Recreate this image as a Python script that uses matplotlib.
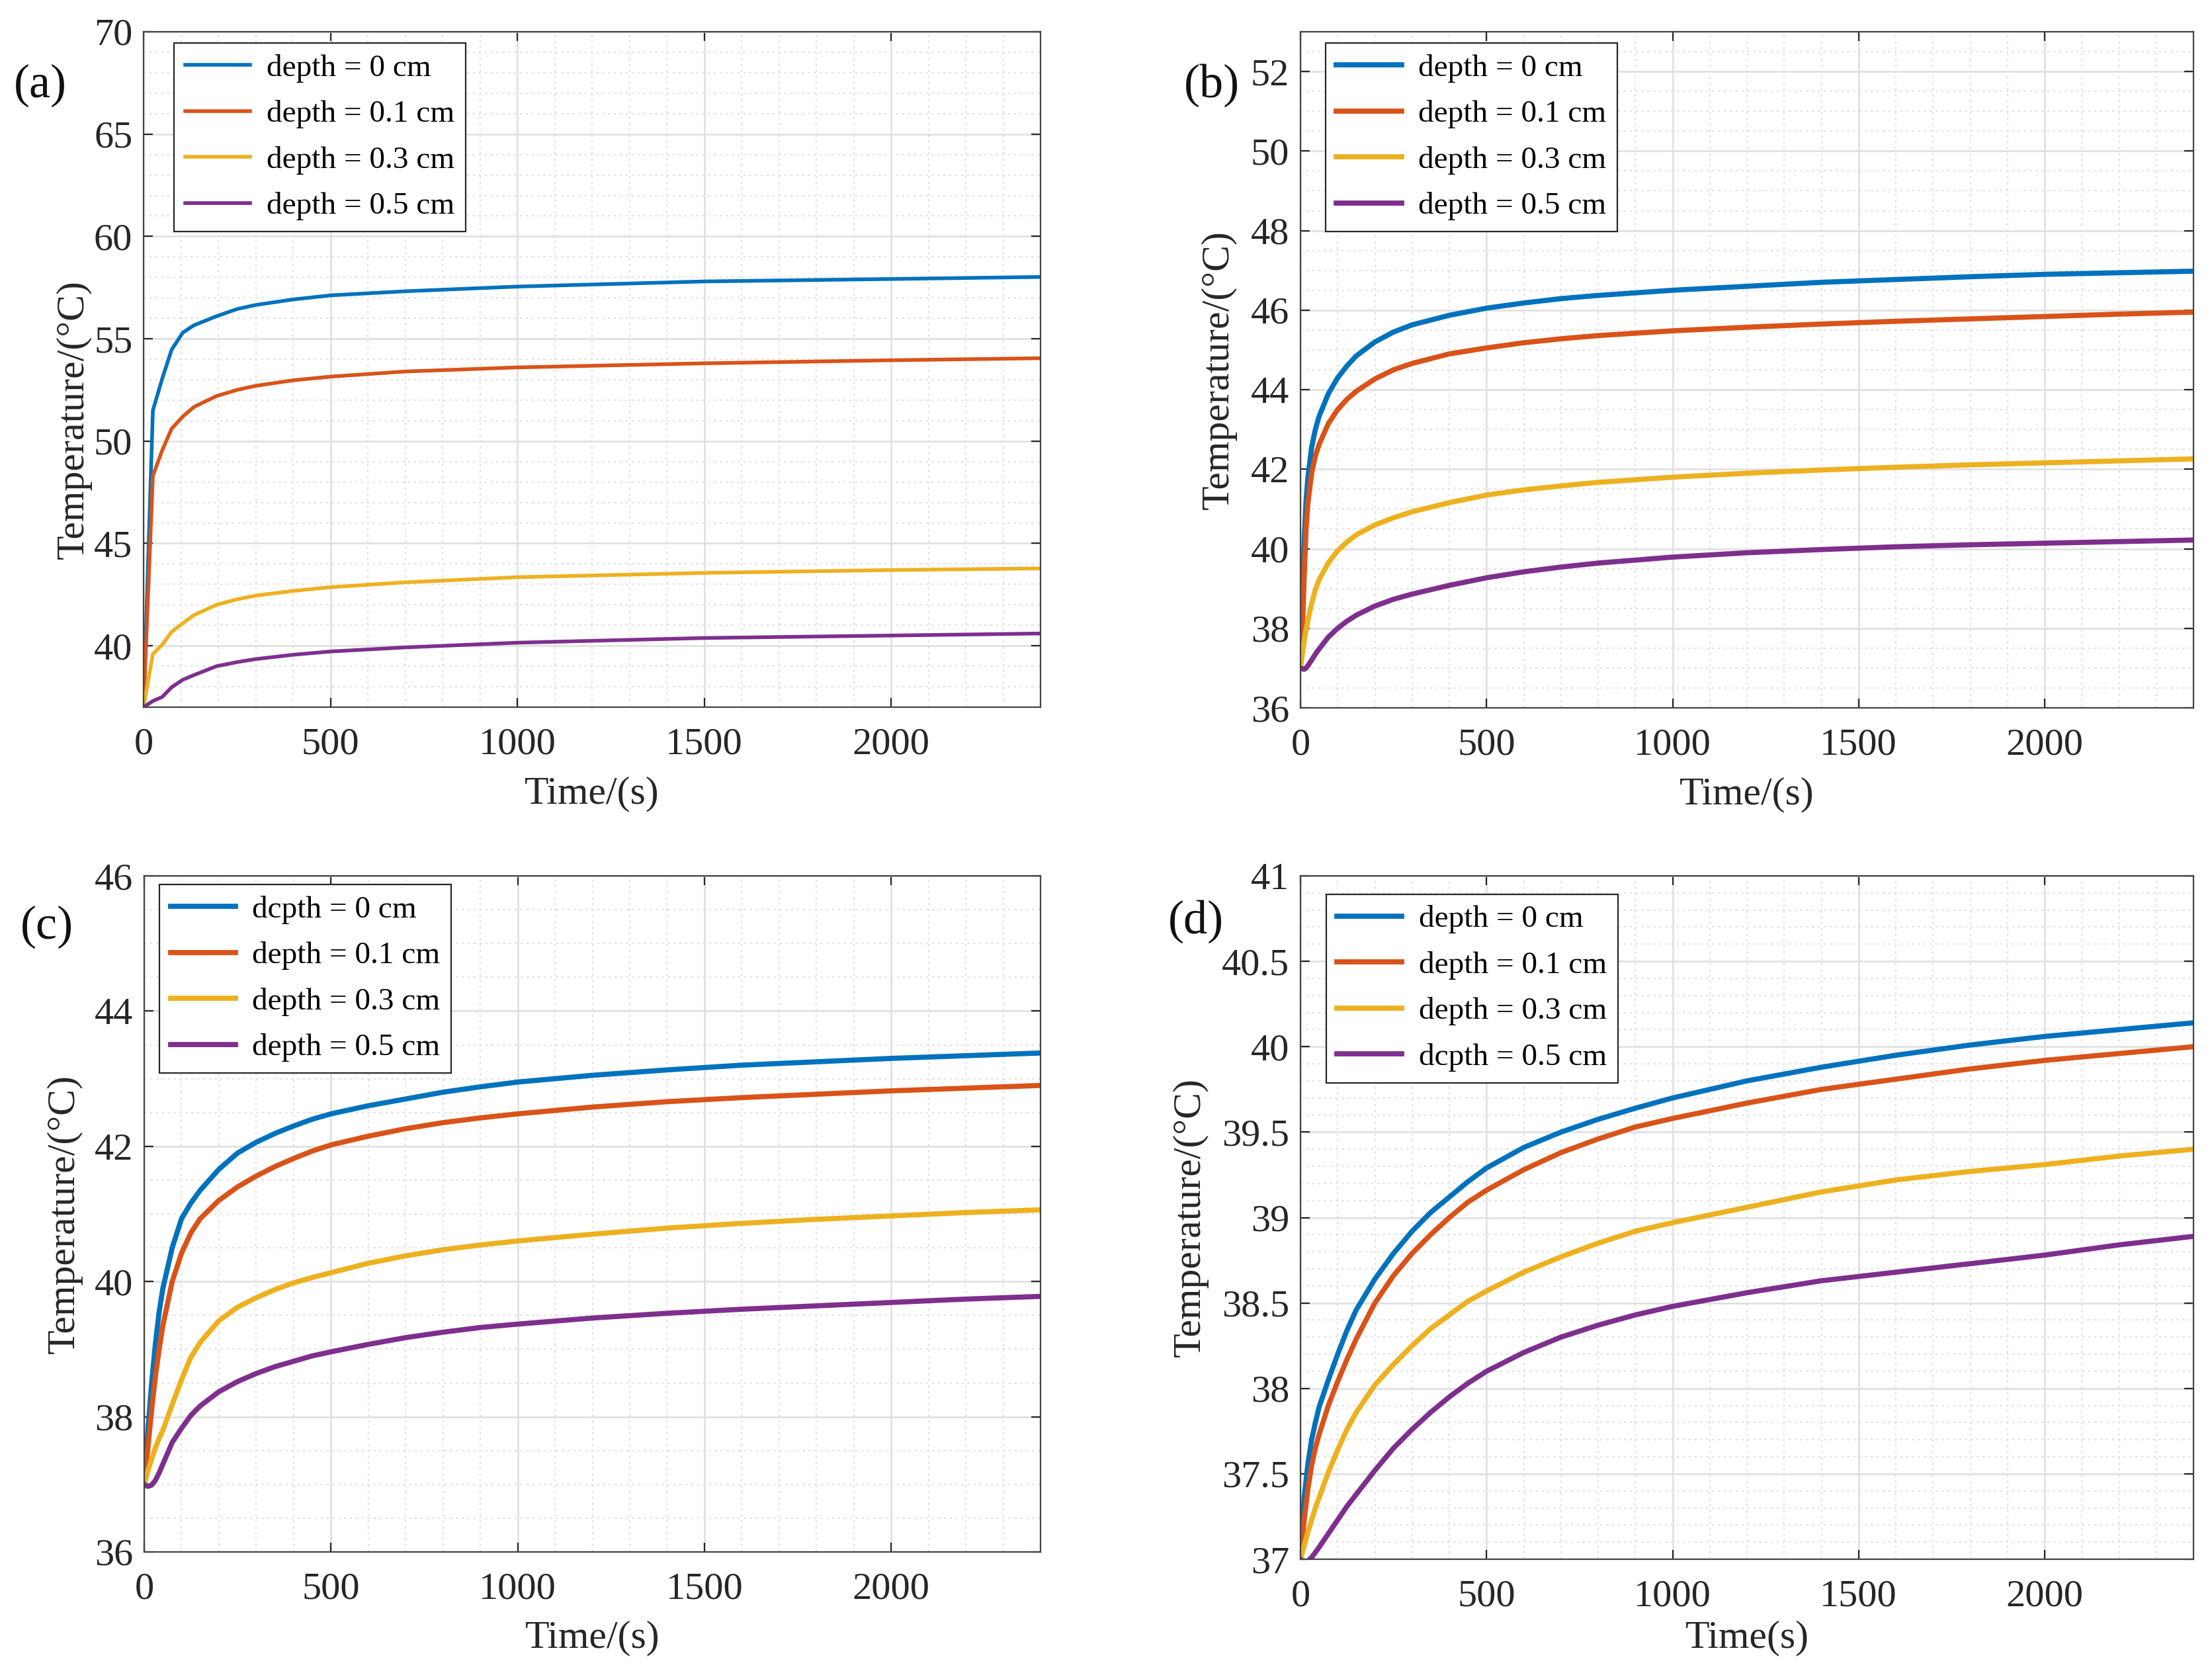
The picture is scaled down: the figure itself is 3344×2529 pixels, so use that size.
import matplotlib
matplotlib.use('Agg')
import matplotlib.pyplot as plt
from matplotlib.ticker import MultipleLocator, FuncFormatter

plt.rcParams['font.family'] = ['Liberation Serif', 'DejaVu Serif']

# MATLAB default line colours
colors = ['#0072BD', '#D95319', '#EDB120', '#7E2F8E']

# ---- panel (a) ----
time_a = [0, 25, 50, 75, 105, 135, 195, 250, 300, 400, 500, 700, 1000, 1500, 2000, 2400]
a_d00 = [37.0, 51.5, 53.05, 54.46, 55.3, 55.66, 56.1, 56.45, 56.65, 56.92, 57.12, 57.32, 57.55, 57.8, 57.92, 58.02]
a_d01 = [37.0, 48.3, 49.55, 50.6, 51.2, 51.67, 52.2, 52.5, 52.7, 52.97, 53.15, 53.4, 53.6, 53.8, 53.95, 54.05]
a_d03 = [37.0, 39.6, 40.05, 40.68, 41.1, 41.5, 42.0, 42.27, 42.45, 42.68, 42.86, 43.1, 43.35, 43.56, 43.7, 43.78]
a_d05 = [37.0, 37.3, 37.5, 37.97, 38.34, 38.57, 39.0, 39.2, 39.35, 39.56, 39.72, 39.92, 40.15, 40.38, 40.5, 40.6]

# ---- panel (b) ----
time_b = [0, 5, 10, 15, 20, 30, 40, 50, 75, 100, 125, 150, 200, 250, 300, 400, 500, 600, 700, 800,
          1000, 1200, 1400, 1600, 1800, 2000, 2200, 2400]
b_d00 = [37.0, 38.6, 40.2, 41.2, 41.8, 42.55, 43.0, 43.33, 43.9, 44.3, 44.6, 44.85, 45.2, 45.45, 45.63, 45.87,
         46.05, 46.18, 46.29, 46.37, 46.5, 46.6, 46.7, 46.77, 46.84, 46.9, 46.94, 46.98]
b_d01 = [37.0, 37.9, 39.3, 40.5, 41.15, 41.9, 42.33, 42.62, 43.15, 43.5, 43.76, 43.96, 44.27, 44.5, 44.66, 44.9,
         45.05, 45.18, 45.28, 45.36, 45.48, 45.57, 45.65, 45.72, 45.78, 45.84, 45.9, 45.95]
b_d03 = [37.0, 37.35, 37.68, 37.97, 38.2, 38.62, 38.97, 39.22, 39.65, 39.95, 40.17, 40.35, 40.6, 40.78, 40.93, 41.16,
         41.35, 41.48, 41.58, 41.67, 41.8, 41.9, 41.98, 42.05, 42.11, 42.16, 42.21, 42.26]
b_d05 = [37.0, 36.98, 36.97, 37.0, 37.06, 37.2, 37.35, 37.48, 37.78, 38.0, 38.18, 38.33, 38.56, 38.73, 38.86, 39.08,
         39.27, 39.42, 39.54, 39.64, 39.79, 39.9, 39.98, 40.05, 40.1, 40.14, 40.18, 40.22]

# ---- panel (c) ----
time_c = [0, 5, 10, 20, 30, 40, 50, 75, 100, 125, 150, 200, 250, 300, 350, 400, 450, 500, 600, 700, 800, 900,
          1000, 1200, 1400, 1600, 1800, 2000, 2200, 2400]
c_d00 = [37.0, 37.4, 37.8, 38.5, 39.08, 39.55, 39.9, 40.5, 40.93, 41.16, 41.35, 41.66, 41.9, 42.06, 42.19, 42.3,
         42.4, 42.48, 42.6, 42.7, 42.8, 42.88, 42.95, 43.05, 43.13, 43.2, 43.25, 43.3, 43.34, 43.38]
c_d01 = [37.0, 37.28, 37.55, 38.1, 38.6, 39.0, 39.35, 40.0, 40.42, 40.72, 40.93, 41.2, 41.4, 41.56, 41.7, 41.82,
         41.93, 42.02, 42.15, 42.26, 42.35, 42.42, 42.48, 42.58, 42.66, 42.72, 42.77, 42.82, 42.86, 42.9]
c_d03 = [37.0, 37.1, 37.2, 37.38, 37.54, 37.68, 37.8, 38.18, 38.55, 38.88, 39.1, 39.42, 39.62, 39.76, 39.88, 39.98,
         40.06, 40.13, 40.27, 40.38, 40.47, 40.54, 40.6, 40.7, 40.79, 40.86, 40.92, 40.97, 41.02, 41.06]
c_d05 = [37.0, 36.98, 36.97, 36.99, 37.06, 37.17, 37.3, 37.62, 37.83, 38.02, 38.16, 38.37, 38.52, 38.64, 38.74, 38.82,
         38.9, 38.96, 39.07, 39.17, 39.25, 39.32, 39.37, 39.46, 39.53, 39.59, 39.64, 39.69, 39.74, 39.78]

# ---- panel (d) ----
time_d = [0, 5, 10, 20, 30, 40, 50, 75, 100, 125, 150, 200, 250, 300, 350, 400, 450, 500, 600, 700, 800, 900,
          1000, 1200, 1400, 1600, 1800, 2000, 2200, 2400]
d_d00 = [37.0, 37.2, 37.36, 37.56, 37.7, 37.8, 37.89, 38.05, 38.2, 38.34, 38.46, 38.64, 38.79, 38.92, 39.03, 39.12,
         39.21, 39.29, 39.41, 39.5, 39.575, 39.64, 39.7, 39.8, 39.88, 39.95, 40.01, 40.06, 40.1, 40.14]
d_d01 = [37.0, 37.12, 37.23, 37.41, 37.55, 37.65, 37.73, 37.9, 38.04, 38.17, 38.29, 38.5, 38.66, 38.79, 38.9, 39.0,
         39.09, 39.16, 39.28, 39.38, 39.46, 39.53, 39.58, 39.67, 39.75, 39.81, 39.87, 39.92, 39.96, 40.0]
d_d03 = [37.0, 37.04, 37.08, 37.16, 37.23, 37.3, 37.36, 37.51, 37.64, 37.76, 37.86, 38.02, 38.14, 38.25, 38.35, 38.43,
         38.51, 38.57, 38.68, 38.77, 38.85, 38.92, 38.97, 39.06, 39.15, 39.22, 39.27, 39.31, 39.36, 39.4]
d_d05 = [37.0, 36.99, 36.985, 36.99, 37.01, 37.04, 37.07, 37.15, 37.23, 37.31, 37.38, 37.52, 37.65, 37.76, 37.86, 37.95,
         38.03, 38.1, 38.21, 38.3, 38.37, 38.43, 38.48, 38.56, 38.63, 38.68, 38.73, 38.78, 38.84, 38.89]

labels_a = ['depth = 0 cm', 'depth = 0.1 cm', 'depth = 0.3 cm', 'depth = 0.5 cm']
labels_b = ['depth = 0 cm', 'depth = 0.1 cm', 'depth = 0.3 cm', 'depth = 0.5 cm']
labels_c = ['dcpth = 0 cm', 'depth = 0.1 cm', 'depth = 0.3 cm', 'depth = 0.5 cm']
labels_d = ['depth = 0 cm', 'depth = 0.1 cm', 'depth = 0.3 cm', 'dcpth = 0.5 cm']

W, H = 3344, 2529
fig = plt.figure(figsize=(W / 200, H / 200), dpi=200)


def px_axes(left, top, right, bottom):
    return fig.add_axes([left / W, 1 - bottom / H, (right - left) / W, (bottom - top) / H])


def draw_panel(ax, t, series, labels, lw, ylim, ymaj, ymin, xlabel, tag, tag_xy,
               leg_xy, ylab_xy, xlab_y):
    for y, c, lab in zip(series, colors, labels):
        ax.plot(t, y, color=c, lw=lw, label=lab)
    ax.set_xlim(0, 2400)
    ax.set_ylim(*ylim)
    ax.xaxis.set_major_locator(MultipleLocator(500))
    ax.xaxis.set_minor_locator(MultipleLocator(100))
    ax.yaxis.set_major_locator(MultipleLocator(ymaj))
    ax.yaxis.set_minor_locator(MultipleLocator(ymin))
    ax.yaxis.set_major_formatter(FuncFormatter(lambda v, p: f'{v:g}'))
    ax.set_axisbelow(True)
    ax.grid(which='major', color='#dedede', lw=0.9, ls='-')
    ax.grid(which='minor', color='#e2e2e2', lw=0.8, ls=(0, (1.5, 2.5)))
    ax.tick_params(which='major', direction='in', length=5, width=0.8,
                   top=True, right=True, labelsize=21, colors='#262626')
    ax.tick_params(axis='x', which='major', pad=11)
    ax.tick_params(axis='y', which='major', pad=6)
    ax.tick_params(which='minor', length=0)
    for sp in ax.spines.values():
        sp.set_color('#444444')
        sp.set_linewidth(0.8)
    ax.set_xlabel(xlabel, fontsize=21.5, va='center', color='#262626')
    ax.xaxis.set_label_coords(0.5, xlab_y)
    ax.set_ylabel('Temperature/(°C)', fontsize=21.5, va='center', color='#262626')
    ax.yaxis.set_label_coords(*ylab_xy)
    leg = ax.legend(loc='upper left', bbox_to_anchor=leg_xy, borderaxespad=0,
                    fontsize=17, fancybox=False, framealpha=1, edgecolor='#262626',
                    handlelength=2.08, handletextpad=0.54, labelspacing=0.56,
                    borderpad=0.35)
    leg.get_frame().set_linewidth(0.8)
    fig.text(tag_xy[0] / W, 1 - tag_xy[1] / H, tag, fontsize=26,
             ha='center', va='center', color='#111111')


ax_a = px_axes(217, 48, 1573, 1069)
draw_panel(ax_a, time_a, [a_d00, a_d01, a_d03, a_d05], labels_a, 2.0,
           (37, 70), 5, 1, 'Time/(s)', '(a)', (61, 129),
           (0.034, 0.983), (-0.0775, 0.426), -0.129)

ax_b = px_axes(1966, 48, 3316, 1070)
draw_panel(ax_b, time_b, [b_d00, b_d01, b_d03, b_d05], labels_b, 2.8,
           (36, 53), 2, 0.5, 'Time/(s)', '(b)', (1832, 129),
           (0.028, 0.983), (-0.091, 0.5), -0.129)

ax_c = px_axes(218, 1324, 1573, 2346)
draw_panel(ax_c, time_c, [c_d00, c_d01, c_d03, c_d05], labels_c, 2.8,
           (36, 46), 2, 0.5, 'Time/(s)', '(c)', (71, 1401),
           (0.017, 0.987), (-0.0885, 0.5), -0.128)

ax_d = px_axes(1966, 1324, 3316, 2357)
draw_panel(ax_d, time_d, [d_d00, d_d01, d_d03, d_d05], labels_d, 2.8,
           (37, 41), 0.5, 0.1, 'Time(s)', '(d)', (1808, 1393),
           (0.0286, 0.973), (-0.123, 0.5), -0.116)

fig.savefig('out.png', dpi=200, facecolor='white')
